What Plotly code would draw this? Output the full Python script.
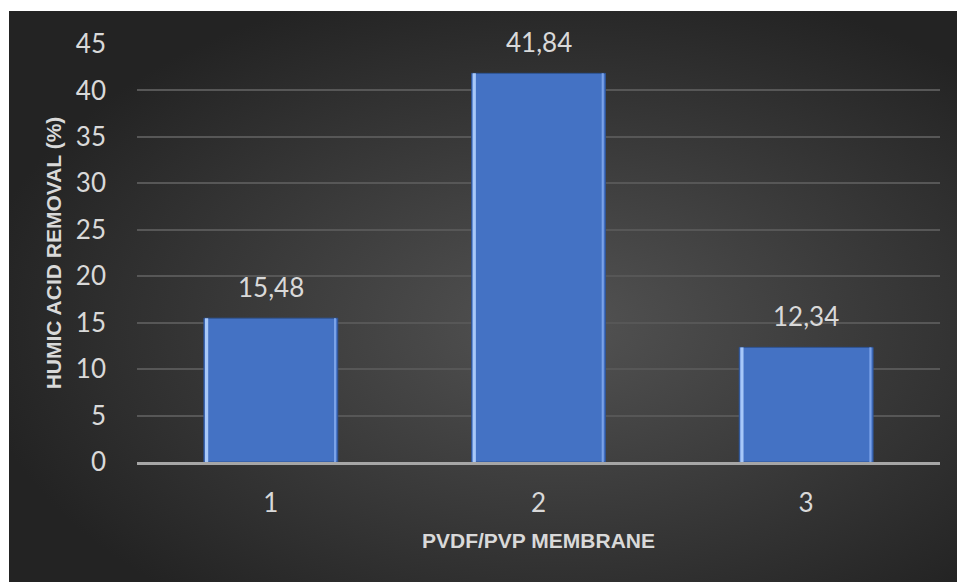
import base64
import plotly.graph_objects as go

categories = ["1", "2", "3"]
removal = [15.48, 41.84, 12.34]
labels = [f"{v:.2f}".replace(".", ",") for v in removal]
y_ticks = [0, 5, 10, 15, 20, 25, 30, 35, 40, 45]

svg = (
    '<svg xmlns="http://www.w3.org/2000/svg" width="948" height="571" viewBox="0 0 948 571" preserveAspectRatio="none">'
    '<defs><radialGradient id="g" cx="58%" cy="55%" r="62%">'
    '<stop offset="0%" stop-color="#535353"/>'
    '<stop offset="100%" stop-color="#232323"/>'
    '</radialGradient></defs>'
    '<rect width="948" height="571" fill="url(#g)"/></svg>'
)
src = "data:image/svg+xml;base64," + base64.b64encode(svg.encode()).decode()

TICK_FONT = dict(family="Lato, Open Sans, sans-serif", size=26, color="#d9d9d9")
TITLE_FONT = dict(family="Liberation Sans, Arial, sans-serif", size=21, color="#d9d9d9")

fig = go.Figure()
# main bars
fig.add_trace(go.Bar(
    x=categories, y=removal,
    marker=dict(color="#4472c4", line=dict(color="#2f5597", width=1)),
    hoverinfo="skip",
))
# bevel highlight strip on left edge
fig.add_trace(go.Bar(
    x=categories, y=removal,
    width=0.012, offset=-0.246,
    marker=dict(color="#a8c8f8", line=dict(width=0)),
    hoverinfo="skip",
))
# lighter strip on right edge
fig.add_trace(go.Bar(
    x=categories, y=removal,
    width=0.008, offset=0.236,
    marker=dict(color="#7aa2e8", line=dict(width=0)),
    hoverinfo="skip",
))

# value labels (category axis: annotation x given as category index)
for i, (v, t) in enumerate(zip(removal, labels)):
    fig.add_annotation(x=i, y=v, text=t, showarrow=False, yanchor="middle",
                       yshift=31, font=TICK_FONT)

W, H = 957, 582
L, R, T, B = 137, 17, 44, 120
pw, ph = W - L - R, H - T - B
x0 = (9 - L) / pw
x1 = (W - L) / pw
y_top = (H - B - 11) / ph
y_bot = (H - B - H) / ph

fig.update_layout(
    width=W, height=H,
    margin=dict(l=L, r=R, t=T, b=B, pad=0),
    paper_bgcolor="white",
    plot_bgcolor="rgba(0,0,0,0)",
    barmode="overlay",
    bargap=0.5,
    showlegend=False,
    images=[dict(source=src, xref="paper", yref="paper", x=x0, y=y_top,
                 sizex=x1 - x0, sizey=y_top - y_bot, sizing="stretch",
                 xanchor="left", yanchor="top", layer="below")],
    xaxis=dict(
        type="category",
        range=[-0.5, len(categories) - 0.5],
        tickfont=TICK_FONT,
        showgrid=False, showline=True, linecolor="#a6a6a6", linewidth=2.5,
        ticks="", ticklabelstandoff=16,
        title=dict(text="<b>PVDF/PVP MEMBRANE</b>", font=TITLE_FONT, standoff=17),
    ),
    yaxis=dict(
        range=[0, 45], tickvals=y_ticks,
        tickfont=TICK_FONT,
        showgrid=True, gridcolor="#575757", gridwidth=1.5,
        zeroline=False, ticks="", ticklabelstandoff=30,
        title=dict(text="<b>HUMIC ACID REMOVAL (%)</b>", font=TITLE_FONT, standoff=8),
    ),
)

fig.write_html("out.html")
